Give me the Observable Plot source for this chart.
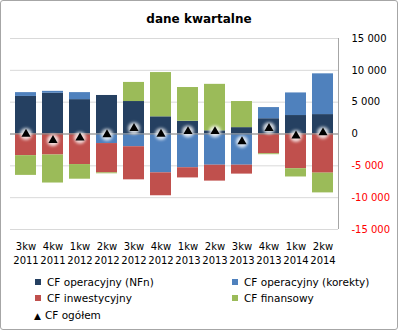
<!DOCTYPE html>
<html>
<head>
<meta charset="utf-8">
<script src="https://cdn.jsdelivr.net/npm/d3@7"></script>
<script src="https://cdn.jsdelivr.net/npm/@observablehq/plot@0.6"></script>
<style>
  html, body { margin: 0; padding: 0; background: #fff; }
  #wrap { position: relative; width: 398px; height: 330px; font-family: "DejaVu Sans", sans-serif; overflow: hidden; }
  #frame { position: absolute; left: 0; top: 0; width: 396px; height: 328px; border: 1px solid #a6a6a6; border-radius: 3px; pointer-events: none; }
  #title { position: absolute; left: 0; width: 398px; top: 12px; text-align: center; font-weight: bold; font-size: 12px; color: #000; }
  #chart { position: absolute; left: 0; top: 30px; }
  .leg { position: absolute; font-size: 10.5px; color: #000; white-space: nowrap; line-height: 14px; }
  .sw { display: inline-block; width: 6px; height: 6px; margin-right: 6px; vertical-align: 1px; }
</style>
</head>
<body>
<div id="wrap">
  <div id="title">dane kwartalne</div>
  <div id="chart"></div>
  <div id="legend"></div>
  <div id="frame"></div>
</div>
<script>
const quarters = ["3kw", "4kw", "1kw", "2kw", "3kw", "4kw", "1kw", "2kw", "3kw", "4kw", "1kw", "2kw"];
const years = ["2011", "2011", "2012", "2012", "2012", "2012", "2013", "2013", "2013", "2013", "2014", "2014"];
const seriesNames = ["CF operacyjny (NFn)", "CF operacyjny (korekty)", "CF inwestycyjny", "CF finansowy"];
const seriesColors = ["#254061", "#4F81BD", "#C0504D", "#9BBB59"];
const cfNFn = [5900, 6400, 5400, 6050, 5100, 2700, 2000, 500, 1000, 2400, 2900, 3050];
const cfKorekty = [600, 300, 1100, -1500, -2000, -6100, -5300, -4900, -4900, 1750, 3550, 6400];
const cfInwest = [-3400, -3300, -4800, -4600, -5200, -3600, -1600, -2500, -1400, -3100, -5450, -6150];
const cfFinans = [-3100, -4400, -2300, -150, 3000, 6950, 5300, 7300, 4100, -150, -1300, -3100];
const cfOgolem = [0, -1000, -600, -100, 900, 0, 400, 400, -1200, 900, -300, 200];
const totalName = "CF ogółem";
const yTicks = [-15000, -10000, -5000, 0, 5000, 10000, 15000];

const categories = quarters.map((q, i) => q + "\n" + years[i]);
const seriesValues = [cfNFn, cfKorekty, cfInwest, cfFinans];
const rows = [];
seriesNames.forEach((s, si) => {
  categories.forEach((c, i) => rows.push({cat: c, series: s, value: seriesValues[si][i]}));
});
const totals = categories.map((c, i) => ({cat: c, value: cfOgolem[i]}));

const fmt = d => (d < 0 ? "-" : "") + d3.format(",")(Math.abs(d)).replace(/,/g, " ");

const plot = Plot.plot({
  width: 398,
  height: 238,
  marginTop: 8,
  marginBottom: 39,
  marginLeft: 10,
  marginRight: 60,
  style: {fontFamily: "DejaVu Sans, sans-serif", fontSize: "10px", color: "#000", background: "transparent"},
  x: {domain: categories, paddingInner: 0.23, paddingOuter: 0.115, axis: null},
  y: {domain: [-15000, 15000], ticks: yTicks, axis: "right", tickSize: 0, tickPadding: 13, tickFormat: fmt, label: null},
  color: {domain: seriesNames, range: seriesColors},
  marks: [
    Plot.ruleY(yTicks, {stroke: "#d9d9d9"}),
    Plot.barY(rows, {x: "cat", y: "value", fill: "series"}),
    Plot.ruleY([0], {stroke: "#868686"}),
    Plot.dot(totals, {x: "cat", y: "value", r: 6, fill: "white", fillOpacity: 0.8, imageFilter: "blur(1.6px)"}),
    Plot.dot(totals, {x: "cat", y: "value", symbol: "triangle", r: 3.4, fill: "black"}),
    Plot.text(categories, {x: d => d, y: () => -15000, text: d => d, lineAnchor: "top", dy: 10, lineHeight: 1.45, fill: "#000"})
  ]
});
document.getElementById("chart").appendChild(plot);

// colour negative tick labels red, add right border of plot area
const svg = d3.select(plot.tagName.toLowerCase() === "svg" ? plot : plot.querySelector("svg"));
svg.selectAll("text").each(function() {
  const t = this.textContent.trim();
  if (t.startsWith("-") || t.startsWith("\u2212")) d3.select(this).attr("fill", "#ff0000");
});
svg.append("line").attr("x1", 338.5).attr("x2", 338.5).attr("y1", 8).attr("y2", 199).attr("stroke", "#a6a6a6");

// legend
const legend = document.getElementById("legend");
const legPos = [[35, 275], [232, 275], [35, 291], [232, 291]];
seriesNames.forEach((s, i) => {
  const d = document.createElement("div");
  d.className = "leg";
  d.style.left = legPos[i][0] + "px";
  d.style.top = legPos[i][1] + "px";
  d.innerHTML = `<span class="sw" style="background:${seriesColors[i]}"></span>${s}`;
  legend.appendChild(d);
});
const t = document.createElement("div");
t.className = "leg";
t.style.left = "34px";
t.style.top = "308px";
t.innerHTML = `<span style="font-size:9px;margin-right:4px">▲</span>${totalName}`;
legend.appendChild(t);
</script>
</body>
</html>
